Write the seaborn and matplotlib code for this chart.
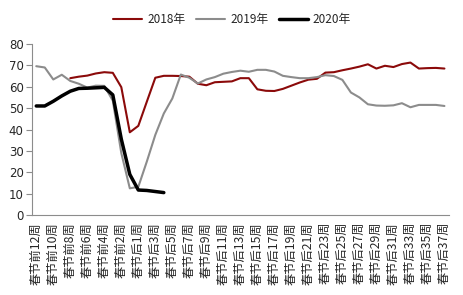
import numpy as np
import pandas as pd
import matplotlib
matplotlib.use("Agg")
import matplotlib.pyplot as plt
import seaborn as sns

categories = [f"春节前{n}周" for n in range(12, 0, -1)] + [f"春节后{n}周" for n in range(1, 38)]

y2018 = [np.nan, np.nan, np.nan, np.nan, 64.0, 64.7, 65.2, 66.2, 66.8, 66.5,
         59.8, 38.7, 41.7, 53.0, 64.2, 65.1, 65.1, 65.0, 64.7, 61.4,
         60.7, 62.1, 62.3, 62.5, 64.0, 64.0, 58.8, 58.1, 58.0, 59.0,
         60.5, 62.0, 63.3, 63.7, 66.6, 66.8, 67.7, 68.5, 69.4, 70.5,
         68.5, 69.8, 69.2, 70.6, 71.3, 68.5, 68.7, 68.8, 68.5]
y2019 = [69.6, 69.0, 63.4, 65.6, 62.7, 61.4, 59.6, 60.5, 60.4, 53.5,
         29.0, 12.5, 13.2, 25.0, 37.5, 47.5, 54.5, 65.7, 64.2, 61.5,
         63.4, 64.5, 66.1, 66.9, 67.5, 67.0, 67.9, 67.9, 67.1, 65.1,
         64.5, 64.0, 64.0, 64.5, 65.4, 65.0, 63.2, 57.3, 55.0, 51.8,
         51.2, 51.1, 51.3, 52.3, 50.4, 51.5, 51.5, 51.5, 51.0]
y2020 = [51.0, 51.0, 53.2, 55.7, 57.9, 59.2, 59.3, 59.5, 59.7, 56.2,
         35.5, 19.0, 11.7, 11.5, 11.0, 10.5]
y2020 = y2020 + [np.nan] * (len(categories) - len(y2020))

series_names = ["2018年", "2019年", "2020年"]
colors = ["#8B0A0A", "#8C8C8C", "#000000"]
widths = [1.5, 1.5, 2.5]
y_ticks = [0, 10, 20, 30, 40, 50, 60, 70, 80]

sns.set_style("white")
plt.rcParams["font.family"] = ["Noto Sans CJK SC", "DejaVu Sans"]

df = pd.DataFrame({"idx": np.arange(len(categories)),
                   "2018年": y2018, "2019年": y2019, "2020年": y2020})

fig = plt.figure(figsize=(4.64, 2.95), dpi=100)
ax = fig.add_axes([0.069, 0.271, 0.898, 0.580])

for name, c, w in zip(series_names, colors, widths):
    sns.lineplot(data=df, x="idx", y=name, ax=ax, color=c, linewidth=w, label=name)

ax.set_xlim(-0.5, len(categories) - 0.5)
ax.set_ylim(0, 80)
ax.set_yticks(y_ticks)
ax.set_yticklabels([str(t) for t in y_ticks], fontsize=8.5, family="DejaVu Sans")

major = np.arange(0, len(categories), 2)
ax.set_xticks(major)
ax.set_xticklabels([categories[i] for i in major], rotation=90, fontsize=8.8)
ax.set_xticks(np.arange(-0.5, len(categories) + 0.5, 1), minor=True)
ax.tick_params(axis="x", which="major", length=0, pad=5)
ax.tick_params(axis="x", which="minor", length=4, color="#8C8C8C", width=0.8, direction="out")
ax.tick_params(axis="y", length=4, color="#8C8C8C", width=0.8, direction="out", pad=2, left=True)
ax.set_xlabel("")
ax.set_ylabel("")

for s in ["top", "right"]:
    ax.spines[s].set_visible(False)
for s in ["left", "bottom"]:
    ax.spines[s].set_color("#8C8C8C")
    ax.spines[s].set_linewidth(0.8)

ax.get_legend().remove()
handles, labels = ax.get_legend_handles_labels()
fig.legend(handles, labels, loc="center", bbox_to_anchor=(0.5, 0.935), ncol=3,
           frameon=False, fontsize=8.5, handlelength=2.5, handletextpad=0.4,
           columnspacing=0.9)

fig.savefig("out.png", dpi=100)
